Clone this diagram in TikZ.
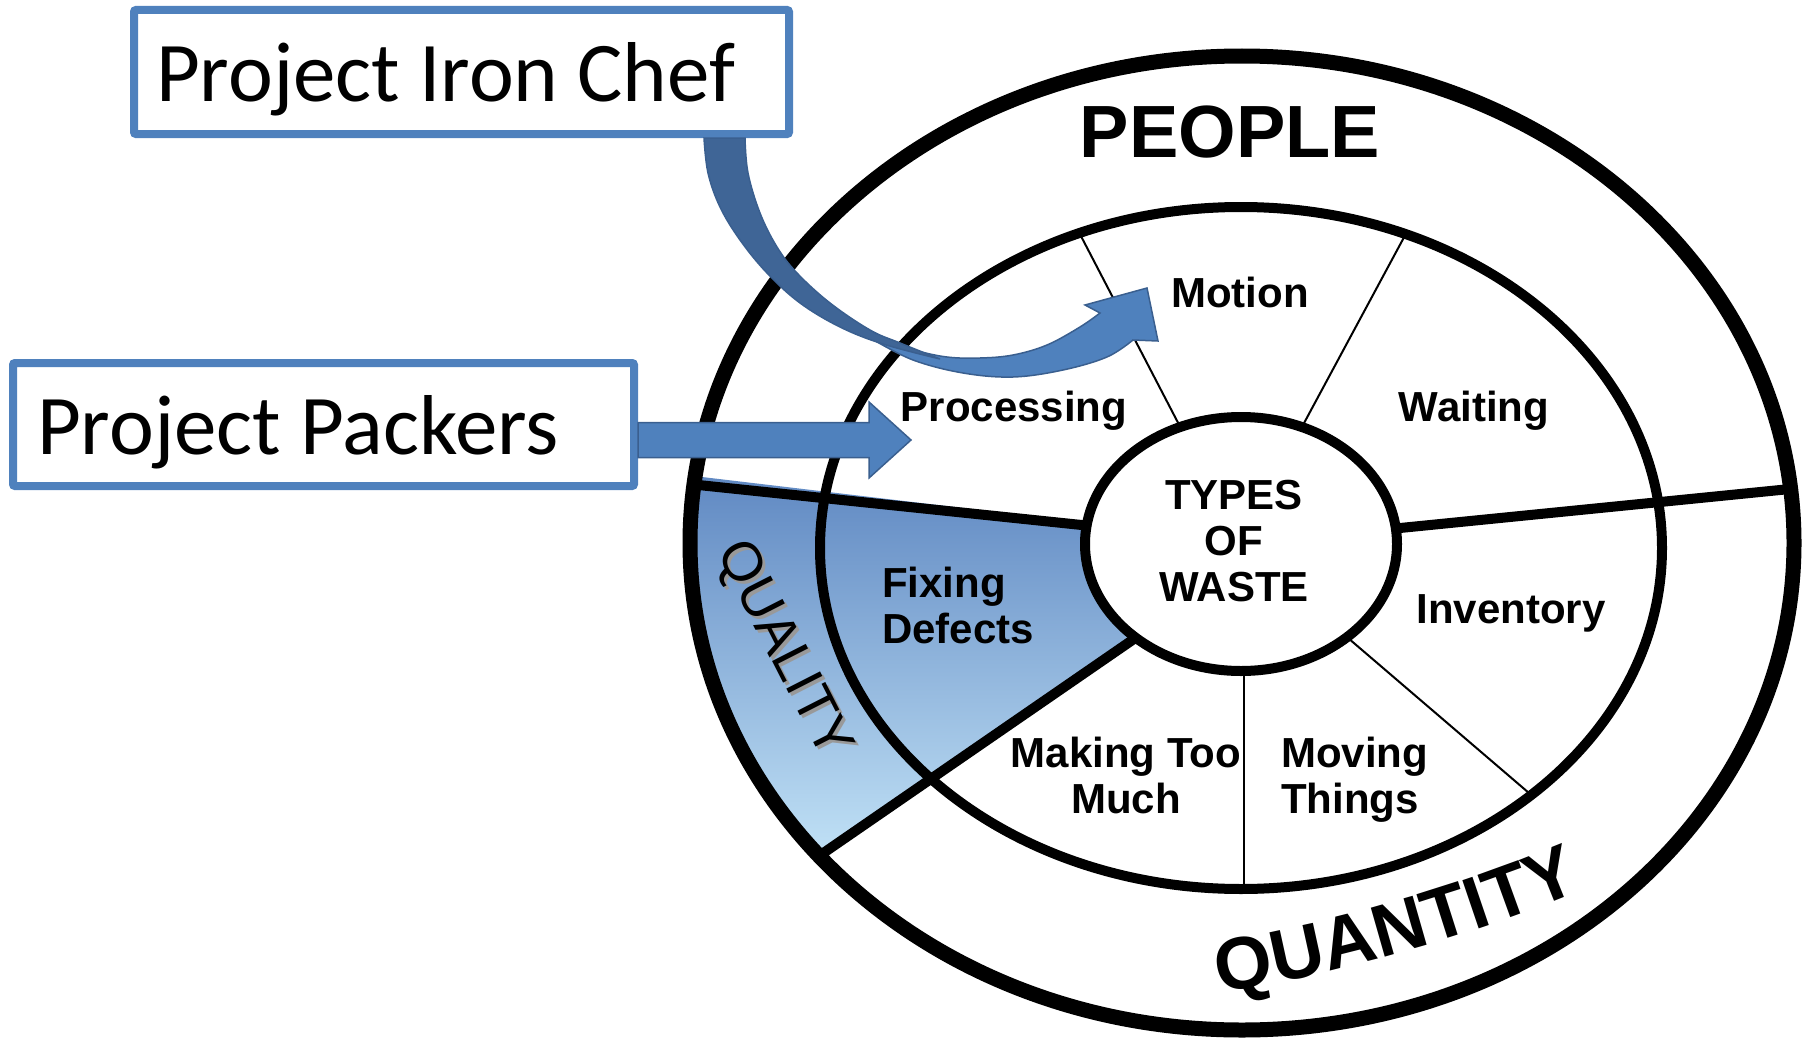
\documentclass[tikz,border=0pt]{standalone}
\usepackage{fontspec}
\setmainfont{Liberation Sans}
\newfontfamily\calibfont{Carlito}
\usetikzlibrary{decorations.text,calc}
\definecolor{boxblue}{HTML}{4F81BD}
\definecolor{darkblue}{HTML}{3F6596}
\definecolor{edgeblue}{HTML}{3A5F8F}
\definecolor{secttop}{RGB}{95,136,194}
\definecolor{sectbot}{RGB}{200,232,250}
\begin{document}
\begin{tikzpicture}[x=1pt,y=-1pt,
  projbox/.style={draw=boxblue, line width=8pt, fill=white, rounded corners=2pt,
    align=flush left, inner ysep=0pt, text height=60pt, text depth=0pt,
    font=\calibfont\fontsize{85}{90}\selectfont},
  lbl/.style={font=\fontsize{42}{46}\selectfont\bfseries, inner sep=0pt},
  bigword/.style={font=\fontsize{74}{74}\selectfont\bfseries, inner sep=0pt},
  thickdiv/.style={line width=10pt},
  thindiv/.style={line width=2pt},
]
\useasboundingbox (0,0) rectangle (1808,1041);

% ---- shaded QUALITY sector
\begin{scope}
  \clip (1242,543) ellipse [x radius=552, y radius=487];
  \shade[top color=secttop, bottom color=sectbot]
    (1241,541) -- (660,472) -- (640,472) -- (640,886) -- (784,886) -- (1160,621) -- cycle;
\end{scope}

% ---- thin dividers (inner ring)
\begin{scope}
  \clip (1241,548) ellipse [x radius=421, y radius=341];
  \draw[thindiv] (1200,465) -- (1070,215);
  \draw[thindiv] (1282,464) -- (1416,215);
  \draw[thindiv] (1320,614) -- (1550,811);
  \draw[thindiv] (1244,640) -- (1244,910);
\end{scope}

% ---- thick dividers (outer ring)
\begin{scope}
  \clip (1242,543) ellipse [x radius=552, y radius=487];
  \draw[thickdiv] (1120,529) -- (660,481);
  \draw[thickdiv] (1360,532) -- (1820,486);
  \draw[thickdiv] (1160,621) -- (790,876);
\end{scope}

% ---- ellipses
\draw[line width=15pt] (1242,543) ellipse [x radius=552, y radius=487];
\draw[line width=10pt] (1241,548) ellipse [x radius=421, y radius=341];
\draw[line width=10pt, fill=white] (1241,544) ellipse [x radius=156, y radius=127];

% ---- labels
\node[bigword, anchor=base] (people) at (1230,157) {PEOPLE};
\node[lbl, anchor=base] (motion) at (1240,307) {Motion};
\node[lbl, anchor=base] (processing) at (1014,421) {Processing};
\node[lbl, anchor=base] (waiting) at (1474,421) {Waiting};
\node[lbl, anchor=base] (inventory) at (1511,623) {Inventory};
\node[lbl, anchor=base, align=center] (types) at (1234,601) {TYPES\\OF\\WASTE};
\node[lbl, anchor=base west, align=left] (fixing) at (882,643) {Fixing\\Defects};
\node[lbl, anchor=base, align=center] (making) at (1126,813) {Making Too\\Much};
\node[lbl, anchor=base west, align=left] (moving) at (1281,813) {Moving\\Things};

\node[rotate=-63, text=black!40, font=\fontsize{55}{55}\selectfont, inner sep=0pt] (qualityshadow) at (785,653) {QUALITY};
\node[rotate=-63, font=\fontsize{55}{55}\selectfont, inner sep=0pt] (quality) at (782,650) {QUALITY};

\path[decorate, decoration={text along path, text align=center,
   text={|\fontsize{74}{74}\selectfont\bfseries|QUANTITY}}]
   (1190,998) .. controls (1329,978) and (1482,935) .. (1610,878);

% ---- project boxes
\node[projbox, minimum width=655pt, minimum height=124pt, text width=611pt, inner xsep=22pt]
  (iron) at (461.5,72) {Project Iron Chef};
\node[projbox, minimum width=621pt, minimum height=123pt, text width=573pt, inner xsep=24pt]
  (packers) at (323.5,424.5) {Project Packers};

% ---- straight block arrow
\coordinate (ppTip) at (911,440);
\filldraw[fill=boxblue, draw=edgeblue, line width=1.5pt]
  ($(packers.east |- ppTip)+(0,-17.5)$) -- ($(ppTip)+(-42,-17.5)$) -- ($(ppTip)+(-42,-38)$)
  -- (ppTip) -- ($(ppTip)+(-42,38)$) -- ($(ppTip)+(-42,17.5)$)
  -- ($(packers.east |- ppTip)+(0,17.5)$) -- cycle;

% ---- curved arrow from Project Iron Chef to Motion
\coordinate (icTip) at (1147,288);
% front (light) face with head
\filldraw[fill=boxblue, draw=edgeblue, line width=1.5pt]
  plot[smooth, tension=0.6] coordinates {(872,339) (913,350) (947,357) (980,358) (1013,355) (1047,345) (1080,327) (1100,313)}
  -- (1085,305) -- (icTip) -- (1158,341) -- (1133,340) --
  plot[smooth, tension=0.6] coordinates {(1133,340) (1107,357) (1063,370) (1013,377) (963,373) (913,360) (872,339)}
  -- cycle;
% back (dark) face
\filldraw[fill=darkblue, draw=edgeblue, line width=1.5pt]
  plot[smooth, tension=0.6] coordinates {(704,138) (708,173) (720,207) (740,240) (767,273) (800,303) (840,327) (883,344) (940,359)}
  -- plot[smooth, tension=0.6] coordinates {(940,359) (900,343) (870,330) (830,303) (797,273) (777,247) (760,213) (748,173) (745,138)}
  -- cycle;
\end{tikzpicture}
\end{document}
